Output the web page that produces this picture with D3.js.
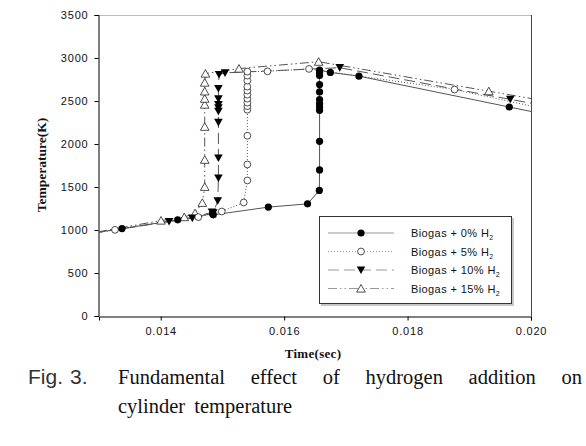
<!DOCTYPE html>
<html><head><meta charset="utf-8">
<script src="https://cdn.jsdelivr.net/npm/d3@7"></script>
<style>
body{margin:0;background:#fff;}
svg{display:block;}
</style></head>
<body>
<svg id="chart" width="586" height="446"></svg>
<script>
// ---- data (time in s, temperature in K) ----
const seriesNames = ["Biogas + 0% H", "Biogas + 5% H", "Biogas + 10% H", "Biogas + 15% H"];
const xTicks = [0.014, 0.016, 0.018, 0.020];
const yTicks = [0, 500, 1000, 1500, 2000, 2500, 3000, 3500];

const h0 = [[0.01265,935],[0.013373,1017],[0.014275,1118],[0.01484,1190],[0.014852,1176],[0.015744,1266],
  [0.016379,1304],[0.01657,1460],[0.016574,1699],[0.016574,2031],[0.016574,2391],[0.016574,2430],[0.016574,2469],
  [0.016574,2516],[0.016574,2606],[0.016574,2692],[0.016574,2797],[0.016574,2828],[0.016574,2859],
  [0.016749,2832],[0.017212,2789],[0.019648,2430],[0.0205,2305]];
const h5 = [[0.01265,935],[0.013259,1002],[0.014609,1150],[0.014989,1215],[0.015345,1320],[0.015404,1576],
  [0.015404,1762],[0.015404,2096],[0.015404,2399],[0.015404,2440],[0.015404,2481],[0.015404,2527],[0.015404,2574],
  [0.015404,2621],[0.015404,2667],[0.015404,2737],[0.015404,2795],[0.015404,2842],
  [0.01573,2845],[0.016403,2873],[0.018761,2633],[0.0205,2365]];
const h10 = [[0.01265,935],[0.014135,1098],[0.014512,1138],[0.014831,1208],[0.014852,1200],[0.014924,1339],
  [0.014935,1604],[0.014935,1837],[0.014935,2251],[0.014935,2380],[0.014935,2419],[0.014935,2457],[0.014935,2524],
  [0.014935,2644],[0.014945,2807],[0.015042,2827],[0.016901,2887],[0.019664,2519],[0.0205,2408]];
const h15 = [[0.01265,935],[0.014005,1110],[0.014382,1150],[0.014556,1196],[0.014674,1316],[0.014713,1502],
  [0.014713,1817],[0.014713,2201],[0.014713,2458],[0.014713,2527],[0.014713,2612],[0.014713,2714],[0.014725,2819],
  [0.015269,2877],[0.016559,2957],[0.019316,2614],[0.0205,2467]];
const allSeries = [h0, h5, h10, h15];

// ---- layout ----
const svg = d3.select("#chart");
const L = 99, R = 531, T = 15, B = 316;
const x = d3.scaleLinear().domain([0.013, 0.020]).range([L, R]);
const y = d3.scaleLinear().domain([0, 3500]).range([B, T]);

const styles = [
  {dash: null, marker: "fcircle"},
  {dash: "1,2", marker: "ocircle"},
  {dash: "11,5", marker: "ftri"},
  {dash: "9,3,1.5,3,1.5,3", marker: "otri"}
];
const lineColor = "#555";

svg.append("clipPath").attr("id","clip").append("rect")
  .attr("x", L).attr("y", T).attr("width", R-L).attr("height", B-T);

// frame top and right
svg.append("line").attr("x1",L).attr("x2",R).attr("y1",T+0.5).attr("y2",T+0.5).attr("stroke","#bdbdbd").attr("stroke-width",1);
svg.append("line").attr("x1",R+0.5).attr("x2",R+0.5).attr("y1",T).attr("y2",B).attr("stroke","#444").attr("stroke-width",1);

// axes
const tickFont = "'Liberation Sans', Arial, sans-serif";
const xAxis = svg.append("g").attr("transform",`translate(0,${B+0.5})`)
  .call(d3.axisBottom(x).tickValues(xTicks).tickFormat(d3.format(".3f")).tickSize(4).tickPadding(7));
const yAxis = svg.append("g").attr("transform",`translate(${L-0.5},0)`)
  .call(d3.axisLeft(y).tickValues(yTicks).tickFormat(d3.format("d")).tickSize(4).tickPadding(6));
[xAxis, yAxis].forEach(g => {
  g.select(".domain").attr("stroke","#000");
  g.selectAll(".tick line").attr("stroke","#000");
  g.selectAll("text").attr("fill","#111").style("font-family", tickFont).style("font-size","11px").style("letter-spacing","0.8px");
});

// lines & markers
const plot = svg.append("g").attr("clip-path","url(#clip)");
const lineGen = d3.line().x(d => x(d[0])).y(d => y(d[1]));
function drawMarker(g, type, cx, cy) {
  if (type === "fcircle") g.append("circle").attr("cx",cx).attr("cy",cy).attr("r",3.6).attr("fill","#000");
  else if (type === "ocircle") g.append("circle").attr("cx",cx).attr("cy",cy).attr("r",3.4).attr("fill","#fff").attr("stroke","#222").attr("stroke-width",0.8);
  else if (type === "ftri") g.append("path").attr("d",`M${cx-4.3},${cy-3.6}L${cx+4.3},${cy-3.6}L${cx},${cy+4}Z`).attr("fill","#000");
  else g.append("path").attr("d",`M${cx-4.3},${cy+3.6}L${cx+4.3},${cy+3.6}L${cx},${cy-4}Z`).attr("fill","#fff").attr("stroke","#222").attr("stroke-width",0.8);
}
allSeries.forEach((s,i) => {
  plot.append("path").datum(s).attr("d", lineGen).attr("fill","none")
    .attr("stroke", lineColor).attr("stroke-width",1)
    .attr("stroke-dasharray", styles[i].dash);
});
[3,2,1,0].forEach(i => {
  const g = plot.append("g");
  allSeries[i].forEach(d => drawMarker(g, styles[i].marker, x(d[0]), y(d[1])));
});

// legend
const lg = svg.append("g");
lg.append("rect").attr("x",321).attr("y",218).attr("width",193).attr("height",88).attr("fill","#c8c8c8");
lg.append("rect").attr("x",319.5).attr("y",216.5).attr("width",192).attr("height",87).attr("fill","#fff").attr("stroke","#333").attr("stroke-width",1);
const rowY = [233, 251.5, 270, 288.5];
seriesNames.forEach((n,i) => {
  const yy = rowY[i];
  lg.append("line").attr("x1",328).attr("x2",394).attr("y1",yy).attr("y2",yy)
    .attr("stroke","#999").attr("stroke-width",1).attr("stroke-dasharray", styles[i].dash);
  drawMarker(lg, styles[i].marker, 361, yy);
  const t = lg.append("text").attr("x",411).attr("y",yy+4).attr("fill","#111")
    .style("font-family", tickFont).style("font-size","11px").style("letter-spacing","0.4px");
  t.append("tspan").text(n);
  t.append("tspan").attr("dy",3).style("font-size","7px").text("2");
});

// axis titles
const serif = "'Liberation Serif', 'Times New Roman', serif";
svg.append("text").attr("transform","translate(46,165) rotate(-90)").attr("text-anchor","middle")
  .style("font-family",serif).style("font-weight","bold").style("font-size","13.5px").attr("fill","#111").text("Temperature(K)");
svg.append("text").attr("x",313).attr("y",358).attr("text-anchor","middle")
  .style("font-family",serif).style("font-weight","bold").style("font-size","13px").style("letter-spacing","0.3px").attr("fill","#111").text("Time(sec)");

// caption
const cap = svg.append("g");
cap.append("text").attr("x",28).attr("y",384).style("font-family",tickFont).style("font-size","21px").attr("fill","#333").text("Fig.");
cap.append("text").attr("x",70).attr("y",384).style("font-family",tickFont).style("font-size","21px").attr("fill","#333").text("3.");
const words = ["Fundamental","effect","of","hydrogen","addition","on"];
const wEls = words.map(w => cap.append("text").attr("y",384).style("font-family",serif).style("font-size","20.5px").attr("fill","#111").text(w));
const widths = wEls.map(e => e.node().getComputedTextLength());
const total = widths.reduce((a,b)=>a+b,0);
const gap = (582 - 118 - total) / (words.length - 1);
let cx = 118;
wEls.forEach((e,i) => { e.attr("x", cx); cx += widths[i] + gap; });
cap.append("text").attr("x",118).attr("y",413).style("font-family",serif).style("font-size","20.5px").style("word-spacing","4px").attr("fill","#111").text("cylinder temperature");
</script>
</body></html>
